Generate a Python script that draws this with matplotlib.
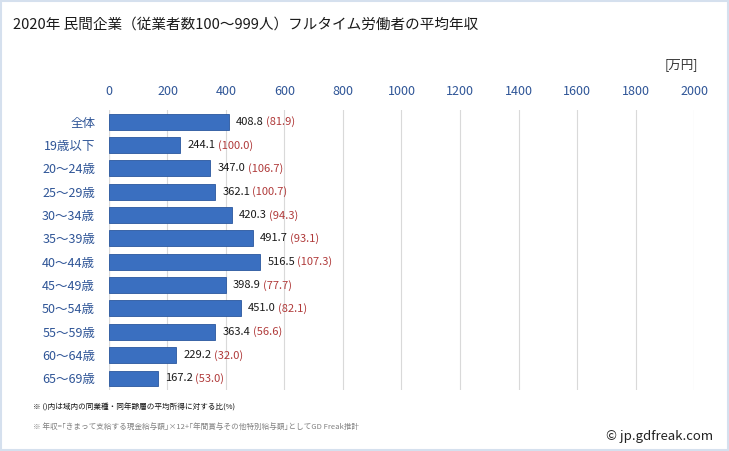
import numpy as np
import matplotlib
matplotlib.use('Agg')
import matplotlib.pyplot as plt
from matplotlib.patches import Rectangle

plt.rcParams['font.family'] = ['Noto Sans CJK JP', 'DejaVu Sans']

categories = ['全体', '19歳以下', '20～24歳', '25～29歳', '30～34歳', '35～39歳',
              '40～44歳', '45～49歳', '50～54歳', '55～59歳', '60～64歳', '65～69歳']
income = [408.8, 244.1, 347.0, 362.1, 420.3, 491.7, 516.5, 398.9, 451.0, 363.4, 229.2, 167.2]
ratio = [81.9, 100.0, 106.7, 100.7, 94.3, 93.1, 107.3, 77.7, 82.1, 56.6, 32.0, 53.0]
xticks = [0, 200, 400, 600, 800, 1000, 1200, 1400, 1600, 1800, 2000]

fig = plt.figure(figsize=(7.29, 4.51), dpi=100)
fig.patches.append(Rectangle((0.002, 0.002), 0.996, 0.996, transform=fig.transFigure,
                             fill=False, edgecolor='#d5e0ee', linewidth=1.5))
ax = fig.add_axes([0.1495, 0.135, 0.8025, 0.621])

y = np.arange(len(categories))
ax.barh(y, income, height=0.68, color='#3a6fc0', edgecolor='#2a579e', linewidth=0.6, zorder=3)

ax.set_xlim(0, 2000)
ax.set_ylim(len(categories) - 0.5, -0.5)
ax.set_xticks(xticks)
ax.set_yticks(y)
ax.set_yticklabels(categories)
ax.xaxis.tick_top()
ax.tick_params(axis='x', length=0, pad=9, labelsize=9, labelcolor='#2f5597')
ax.tick_params(axis='y', length=0, pad=10, labelsize=9, labelcolor='#2f5597')
ax.grid(axis='x', color='#d9d9d9', linewidth=0.8, zorder=0)
for s in ax.spines.values():
    s.set_visible(False)
ax.axvline(0, color='#c8c8c8', linewidth=0.8, zorder=1)

fig.canvas.draw()
renderer = fig.canvas.get_renderer()
inv = ax.transData.inverted()
for i, (v, r) in enumerate(zip(income, ratio)):
    t = ax.text(v + 25, i, f'{v:.1f}', va='center', ha='left', fontsize=8,
                color='#1a1a1a', zorder=4)
    bb = t.get_window_extent(renderer)
    x_end = inv.transform((bb.x1, bb.y0))[0]
    ax.text(x_end + 8, i, f'({r:.1f})', va='center', ha='left', fontsize=8,
            color='#b03a3a', zorder=4)

fig.text(0.018, 0.945, '2020年 民間企業（従業者数100～999人）フルタイム労働者の平均年収',
         fontsize=10.5, color='#1a1a1a', va='center')
fig.text(0.958, 0.857, '[万円]', fontsize=9, color='#333333', ha='right', va='center')
fig.text(0.045, 0.097, '※ ()内は域内の同業種・同年齢層の平均所得に対する比(%)',
         fontsize=5.5, color='#111111', va='center')
fig.text(0.045, 0.052, '※ 年収=｢きまって支給する現金給与額｣×12+｢年間賞与その他特別給与額｣としてGD Freak推計',
         fontsize=5.5, color='#808080', va='center')
fig.text(0.978, 0.032, '© jp.gdfreak.com', fontsize=9.5, color='#222222', ha='right', va='center')

fig.savefig('out.png', dpi=100)
